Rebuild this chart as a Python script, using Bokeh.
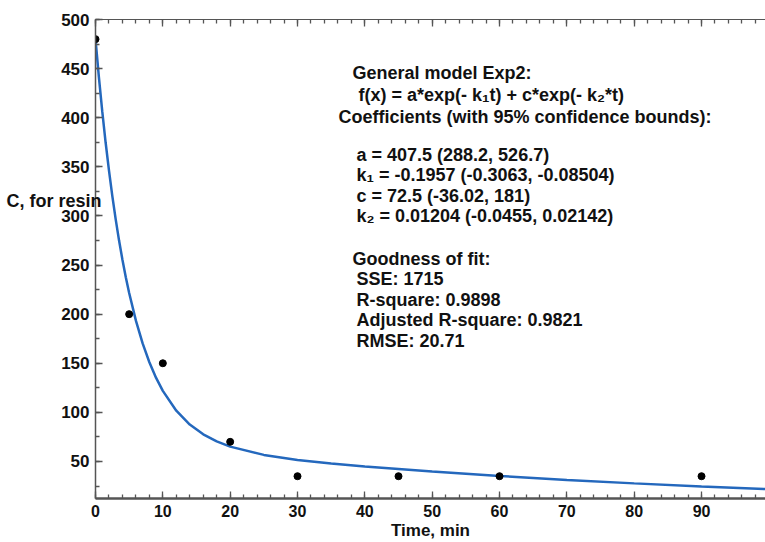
from bokeh.plotting import figure
from bokeh.models import Range1d, FixedTicker, LinearAxis
from bokeh.embed import file_html
from bokeh.resources import INLINE
from bokeh.models import Label

# Observed data
t_obs = [0, 5, 10, 20, 30, 45, 60, 90]
c_obs = [480, 200, 150, 70, 35, 35, 35, 35]

# Fitted curve
t_fit = [0, 0.5, 1, 1.5, 2, 2.5, 3, 3.5, 4, 4.5, 5, 6, 7, 8, 9, 10, 12, 14, 16, 18,
         20, 25, 30, 35, 40, 50, 60, 70, 80, 90, 100]
c_fit = [480, 441.6, 406.7, 375.0, 346.4, 320.2, 296.5, 274.9, 255.4, 237.6, 221.5,
         193.4, 170.2, 151.0, 135.1, 121.9, 101.7, 87.6, 77.6, 70.4,
         65.1, 56.7, 51.6, 48.0, 45.0, 39.7, 35.2, 31.2, 27.7, 24.5, 21.8]

x_ticks = [0, 10, 20, 30, 40, 50, 60, 70, 80, 90]
x_minor = [i * 2 for i in range(0, 51)]
y_ticks = [50, 100, 150, 200, 250, 300, 350, 400, 450, 500]
y_minor = [i * 25 for i in range(0, 21)]

y_label = "C, for resin"
x_label = "Time, min"

text_lines = [
    "General model Exp2:",
    "f(x) = a*exp(- k\u2081t) + c*exp(- k\u2082*t)",
    "Coefficients (with 95% confidence bounds):",
    "a = 407.5 (288.2, 526.7)",
    "k\u2081 = -0.1957 (-0.3063, -0.08504)",
    "c = 72.5 (-36.02, 181)",
    "k\u2082 = 0.01204 (-0.0455, 0.02142)",
    "Goodness of fit:",
    "SSE: 1715",
    "R-square: 0.9898",
    "Adjusted R-square: 0.9821",
    "RMSE: 20.71",
]
# pixel positions of text lines (left x, center y)
text_px = [(352, 72), (358, 94), (338, 116), (356, 154), (356, 174), (356, 195),
           (356, 215), (352, 258), (356, 278), (356, 299), (356, 319), (356, 340)]

W, H = 765, 542
L, T, B = 95, 19, 44
X0, X1 = 0, 99.5
Y0, Y1 = 12.3, 500

p = figure(width=W, height=H, output_backend="svg", toolbar_location=None,
           x_range=Range1d(X0, X1), y_range=Range1d(Y0, Y1),
           min_border_left=L, min_border_top=T, min_border_bottom=B, min_border_right=0)
p.grid.visible = False
p.outline_line_color = None
p.background_fill_color = "white"
p.border_fill_color = "white"

FONT = "Liberation Sans"
INK = "#111111"
AXC = "#555555"

def style_axis(ax, ticks, minor, size):
    ax.ticker = FixedTicker(ticks=ticks, minor_ticks=minor)
    ax.major_tick_in = 7
    ax.major_tick_out = 0
    ax.minor_tick_in = 4
    ax.minor_tick_out = 0
    ax.axis_line_color = AXC
    ax.major_tick_line_color = AXC
    ax.minor_tick_line_color = AXC
    ax.major_tick_line_width = 1.3
    ax.minor_tick_line_width = 1.3
    ax.major_label_text_font = FONT
    ax.major_label_text_font_style = "bold"
    ax.major_label_text_font_size = size
    ax.major_label_text_color = INK

xa = p.xaxis[0]
style_axis(xa, x_ticks, x_minor, "16px")
xa.axis_line_width = 2.5
xa.major_label_standoff = 6
xa.axis_label = x_label
xa.axis_label_text_font = FONT
xa.axis_label_text_font_style = "bold"
xa.axis_label_text_font_size = "17px"
xa.axis_label_text_color = INK
xa.axis_label_standoff = 1

ya = p.yaxis[0]
style_axis(ya, y_ticks, y_minor, "17px")
ya.axis_line_width = 1.5
ya.major_label_standoff = 6

top = LinearAxis()
style_axis(top, x_ticks, x_minor, "8px")
top.major_label_overrides = {t: "" for t in x_ticks}
top.major_label_standoff = 0
top.axis_line_width = 1
p.add_layout(top, "above")

# outer left axis used only to carry the horizontal "C, for resin" caption
sy = (H - T - B) / (Y1 - Y0)
cap_val = round(Y1 - (200 - T) / sy, 1)
cap = LinearAxis(ticker=FixedTicker(ticks=[cap_val], minor_ticks=[]),
                 major_label_overrides={cap_val: y_label})
cap.axis_line_color = None
cap.major_tick_line_color = None
cap.minor_tick_line_color = None
cap.major_tick_out = 0
cap.major_tick_in = 0
cap.major_label_standoff = -43
cap.major_label_text_font = FONT
cap.major_label_text_font_style = "bold"
cap.major_label_text_font_size = "18px"
cap.major_label_text_color = INK
p.add_layout(cap, "left")

p.line(t_fit, c_fit, line_color="#2468bd", line_width=2.5)
p.scatter(t_obs, c_obs, size=7, color="black")

sx = (W - L) / (X1 - X0)

def px_to_data(px, py):
    return X0 + (px - L) / sx, Y1 - (py - T) / sy

for s, (px, py) in zip(text_lines, text_px):
    dx, dy = px_to_data(px, py)
    p.add_layout(Label(x=dx, y=dy, text=s, text_font=FONT, text_font_style="bold",
                       text_font_size="18px", text_color=INK,
                       text_baseline="middle", text_align="left"))

open("out.html", "w").write(file_html(p, INLINE))
